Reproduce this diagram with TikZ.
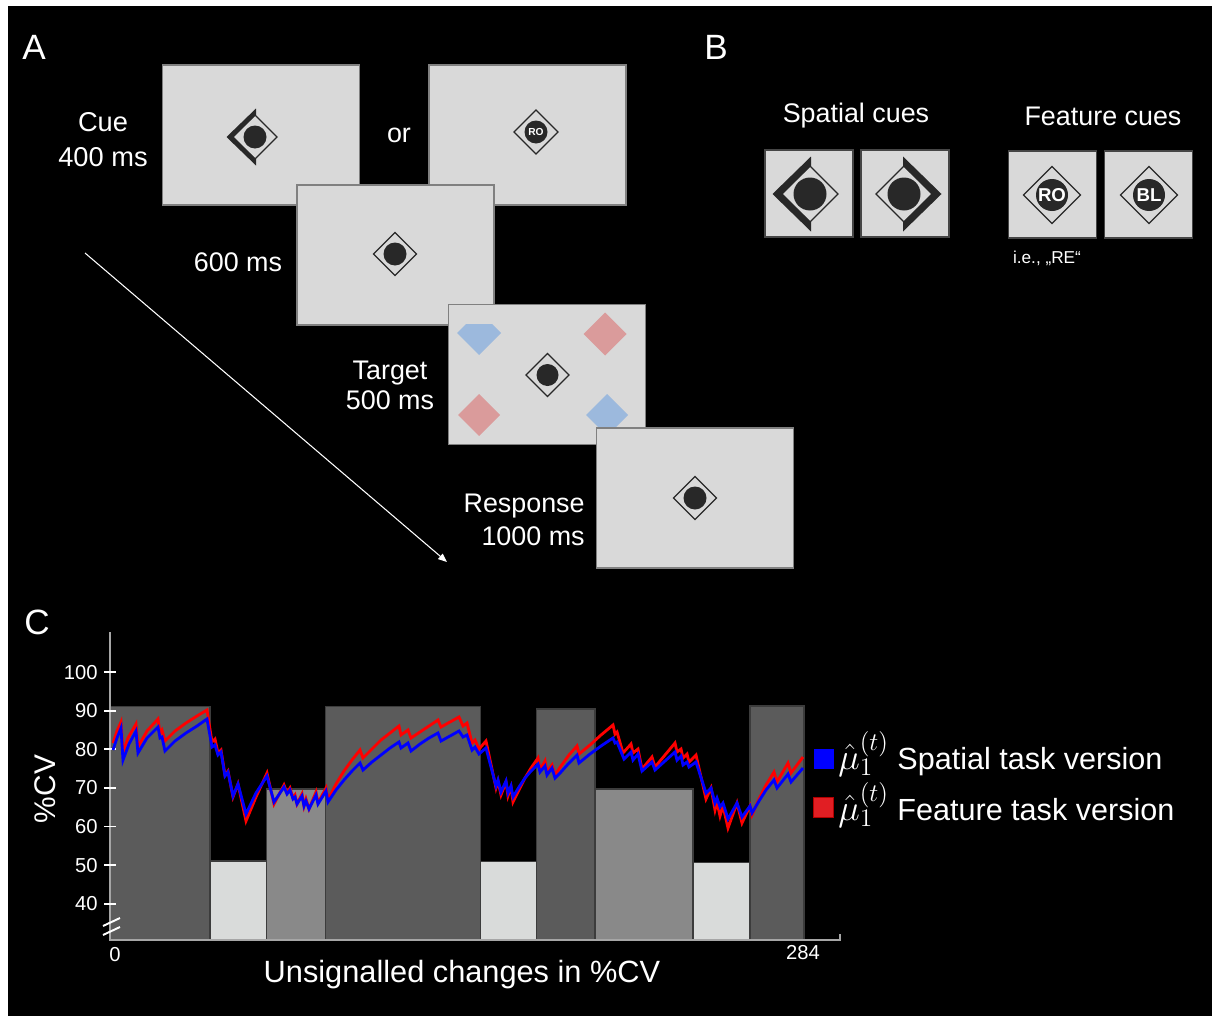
\documentclass[tikz,border=0pt]{standalone}
\usepackage{fontspec}
\setmainfont{Liberation Sans}
\usetikzlibrary{arrows.meta, positioning, calc}

\definecolor{scrfill}{RGB}{217,217,217}
\definecolor{scredge}{RGB}{128,128,128}
\definecolor{boxedge}{RGB}{70,70,70}
\definecolor{markdark}{RGB}{40,40,40}
\definecolor{stimblue}{RGB}{156,185,221}
\definecolor{stimred}{RGB}{218,155,155}
\definecolor{bardark}{RGB}{91,91,91}
\definecolor{barmid}{RGB}{137,137,137}
\definecolor{barlight}{RGB}{217,219,218}
\definecolor{baredge}{RGB}{60,60,60}
\definecolor{cvblue}{RGB}{0,0,255}
\definecolor{cvred}{RGB}{255,0,0}
\definecolor{legred}{RGB}{225,30,35}

\tikzset{
	screen/.style = {draw=scredge, fill=scrfill, line width=0.8pt, inner sep=0pt, outer sep=0pt, minimum width=3.94cm, minimum height=2.8cm},
	cuebox/.style = {draw=boxedge, fill=scrfill, line width=0.8pt, inner sep=0pt, outer sep=0pt, minimum width=1.76cm, minimum height=1.74cm},
	lbl/.style = {text=white, inner sep=0pt, font=\fontsize{15.3}{19}\selectfont},
	panel/.style = {text=white, inner sep=0pt, font=\fontsize{20}{24}\selectfont},
	ticklbl/.style = {text=white, inner sep=0pt, font=\fontsize{11.5}{14}\selectfont},
	cuetxt/.style = {text=white, inner sep=0pt, font=\bfseries\fontsize{#1}{#1}\selectfont},
	legsq/.style = {inner sep=0pt, minimum size=0.4cm, line width=0.5pt},
	legtxt/.style = {text=white, inner sep=0pt, anchor=base west, font=\fontsize{17.4}{20}\selectfont},
	bar/.style = {draw=baredge, line width=0.7pt},
	curve/.style = {line width=1.6pt, line join=miter},
	arrow/.style = {-{Triangle[length=5pt, width=4pt]}, white, line width=0.6pt},
	markline/.style = {draw=markdark, line width=0.75pt},
	markdot/.style = {fill=markdark},
}

% fixation mark: centre, half diagonal, dot radius
\newcommand{\fixmark}[3]{%
	\begin{scope}[shift={#1}]
		\draw[markline] (0,-#2) -- (#2,0) -- (0,#2) -- (-#2,0) -- cycle;
		\fill[markdot] (0,0) circle[radius=#3];
	\end{scope}}
% thick spatial bracket: centre, inner half, outer half, side (1 left, -1 right)
\newcommand{\cuebracket}[4]{%
	\fill[markdot, shift={#1}, xscale=#4] (1,-#3) -- (-#3,0) -- (1,#3) -- (1,#2) -- (-#2,0) -- (1,-#2) -- cycle;}
% coloured target diamond
\newcommand{\stimdiamond}[3]{%
	\fill[#3, shift={#1}] (0,-#2) -- (#2,0) -- (0,#2) -- (-#2,0) -- cycle;}
% belief trajectory symbol for the legend
\newcommand{\muhat}{{\fontsize{21}{24}\selectfont$\hat{\mu}_1^{(t)}$}}

\begin{document}
\begin{tikzpicture}[x=0.02cm, y=-0.02cm]
	
	% page
	\fill[white] (0,0) rectangle (1214,1021);
	\fill[black] (8,6) rectangle (1212,1016);
	\useasboundingbox (0,0) rectangle (1214,1021);
	
	% Panel labels
	\node[panel] (pA) at (34,47) {A};
	\node[panel] (pB) at (716,47) {B};
	\node[panel] (pC) at (37,622) {C};
	
	% Trial sequence
	\node[screen] (cueS) at (261,135) {};
	\cuebracket{(255,137)}{22}{28.5}{1}
	\fixmark{(255,137)}{22}{11.5}
	\node[screen] (cueF) at (527.5,135) {};
	\fixmark{(536,132)}{22}{11.5}
	\node[cuetxt=5.8] (roA) at (536,132) {RO};
	
	\node[screen] (gap) at (395.5,255) {};
	\fixmark{(395,254)}{21.5}{11.5}
	
	\node[screen] (tgt) at (547,374.5) {};
	\fixmark{(547.5,375)}{21.5}{11}
	\fill[stimblue] (466,324) -- (492,324) -- (501,333) -- (479,355) -- (457,333) -- cycle;
	\stimdiamond{(605,334)}{21.5}{stimred}
	\stimdiamond{(479,415)}{21}{stimred}
	\stimdiamond{(607,415)}{21}{stimblue}
	
	\node[screen] (resp) at (695,498) {};
	\fixmark{(695,498)}{21.5}{11.5}
	
	% timing labels
	\node[lbl, align=center, font=\fontsize{15.5}{20}\selectfont] (cueLbl) at (103,139.5) {Cue\\400 ms};
	\node[lbl, anchor=base] (orLbl) at (399,142) {or};
	\node[lbl] (gapLbl) at (238,262.5) {600 ms};
	\node[lbl, align=center, font=\fontsize{15.3}{17}\selectfont] (tgtLbl) at (390,385.5) {Target\\500 ms};
	\node[lbl, align=right, anchor=east, font=\fontsize{15.3}{18.7}\selectfont] (respLbl) at (585,519.5) {Response\\1000 ms};
	
	% time arrow
	\coordinate (tStart) at (85,253);
	\coordinate (tEnd) at (447,562);
	\draw[arrow] (tStart) -- (tEnd);
	
	% Cue types
	\node[lbl, anchor=base] (spHead) at (856,122) {Spatial cues};
	\node[lbl, anchor=base] (ftHead) at (1103,125) {Feature cues};
	\node[cuebox] (sp1) at (809,193.5) {};
	\node[cuebox] (sp2) at (905,193.5) {};
	\node[cuebox] (ft1) at (1052.5,194.5) {};
	\node[cuebox] (ft2) at (1148.5,194.5) {};
	\cuebracket{(810,194)}{28}{37.5}{1}
	\fixmark{(810,194)}{28}{16.5}
	\cuebracket{(904,194)}{28}{37.5}{-1}
	\fixmark{(904,194)}{28}{16.5}
	\fixmark{(1052,195)}{28.5}{16}
	\node[cuetxt=10.6] (roB) at (1052,195) {RO};
	\fixmark{(1149,195)}{28.5}{16}
	\node[cuetxt=10.6] (blB) at (1149,195) {BL};
	\node[text=white, inner sep=0pt, anchor=base, font=\fontsize{9.8}{12}\selectfont] (ieLbl) at (1047,263) {i.e., „RE“};
	
	% Bars of the %CV schedule
	\foreach \xa/\xb/\ytop/\bcol in {110.7/210/706.7/bardark, 210/266.7/861/barlight, 266.7/325.7/789/barmid,
		325.7/480.7/706.7/bardark, 480.7/536.7/861.7/barlight, 536.7/595/709/bardark,
		595/693/789/barmid, 693/750/862.7/barlight, 750/804/706/bardark}
		\draw[bar, fill=\bcol] (\xa,940) rectangle (\xb,\ytop);
	
	% axes
	\draw[gray!70, line width=0.6pt] (110,632) -- (110,940) -- (840,940) -- (840,934);
	\foreach \v in {40,50,...,100} {
		\draw[white, line width=1.1pt] (104,{710.7+(90-\v)*3.86}) -- (116,{710.7+(90-\v)*3.86});
		\node[ticklbl, anchor=east] (t\v) at (98,{710.7+(90-\v)*3.86}) {\v};
	}
	\draw[white, line width=1.1pt] (103,926) -- (120,918);
	\draw[white, line width=1.1pt] (103,935) -- (120,927);
	\node[ticklbl] (x0) at (115,955) {0};
	\node[ticklbl] (xEnd) at (803,953) {284};
	\node[lbl, font=\fontsize{17.5}{20}\selectfont] (xLbl) at (462,975) {Unsignalled changes in \%CV};
	\node[lbl, font=\fontsize{17}{20}\selectfont, rotate=90] (yLbl) at (45,789) {\%CV};
	
	% trajectories
	\draw[curve, cvred] plot coordinates {(113,743) (117,731) (121,722) (123,752) (128,738) (136,724) (138,747) (147,731) (158,719) (160,733) (162,730) (165,741) (175,731) (186,723) (197,716) (207,710) (212,742) (215,739) (218,753) (221,750) (225,775) (228,771) (233,797) (238,784) (246,821) (256,797) (267,773) (274,804) (284,785) (287,793) (290,788) (293,798) (295,795) (297,804) (302,794) (304,806) (306,799) (309,809) (316,792) (318,803) (326,788) (328,800) (336,784) (344,771) (352,760) (360,750) (363,758) (372,749) (381,740) (390,733) (399,726) (401,735) (408,730) (411,738) (420,732) (429,726) (438,720) (441,727) (450,722) (459,717) (463,726) (467,723) (472,743) (475,740) (479,749) (486,741) (496,788) (498,781) (501,795) (506,782) (508,796) (511,787) (513,802) (519,790) (525,778) (531,768) (538,758) (540,770) (545,761) (547,772) (552,765) (555,775) (561,766) (569,755) (577,746) (579,754) (590,745) (601,735) (613,725) (615,734) (617,732) (623,753) (631,744) (633,753) (638,749) (642,769) (652,757) (655,767) (665,755) (675,743) (677,752) (681,749) (683,758) (687,754) (689,762) (696,755) (706,799) (711,788) (715,810) (717,802) (720,816) (723,806) (728,828) (737,803) (742,823) (750,806) (752,815) (759,799) (766,785) (774,772) (777,782) (788,763) (791,773) (803,757)};
	\draw[curve, cvblue] plot coordinates {(113,750) (117,738) (121,728) (123,760) (129,744) (136,731) (138,753) (147,738) (158,727) (160,738) (162,737) (165,751) (175,741) (186,733) (197,726) (207,719) (212,747) (215,745) (218,755) (221,752) (225,776) (228,772) (233,796) (238,784) (246,814) (256,793) (267,776) (274,802) (284,787) (287,794) (290,790) (293,799) (295,797) (297,804) (302,796) (304,806) (306,801) (309,809) (316,795) (318,804) (326,791) (328,802) (336,790) (344,780) (352,771) (360,763) (363,770) (372,762) (381,755) (390,748) (399,742) (401,748) (408,743) (411,751) (420,744) (429,738) (438,733) (441,741) (450,736) (459,731) (463,737) (467,735) (472,750) (475,747) (479,754) (486,748) (496,786) (498,780) (501,792) (506,781) (508,793) (511,786) (513,797) (519,787) (525,778) (531,771) (538,764) (540,772) (545,766) (547,775) (552,768) (555,778) (561,772) (569,763) (577,755) (579,763) (590,754) (601,746) (613,738) (615,743) (617,742) (624,759) (631,752) (633,760) (638,754) (642,771) (652,762) (655,770) (665,761) (675,752) (677,760) (681,756) (683,765) (687,762) (689,767) (696,762) (706,793) (711,788) (715,803) (717,798) (720,807) (723,803) (728,819) (737,803) (742,817) (750,806) (752,813) (759,801) (766,790) (774,780) (777,788) (788,774) (791,782) (803,768)};
	
	% legend
	\node[legsq, fill=cvblue] (sqS) at (823.5,759) {};
	\node[legsq, fill=legred, draw=red!70!black] (sqF) at (823.5,807.5) {};
	\node[legtxt] (legS) at (838,769) {\muhat\ Spatial task version};
	\node[legtxt] (legF) at (838,820) {\muhat\ Feature task version};
	
\end{tikzpicture}
\end{document}
